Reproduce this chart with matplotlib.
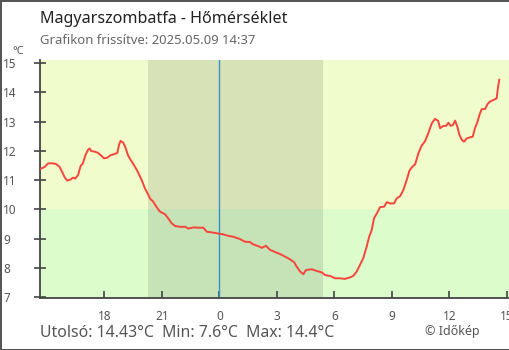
import numpy as np
import matplotlib
matplotlib.use("Agg")
import matplotlib.pyplot as plt

plt.rcParams['font.family'] = ['Noto Sans', 'DejaVu Sans']

# readings, clock time (starts 14:37 the day before)
times = ["14:38", "14:54", "15:04", "15:20", "15:30", "15:40", "15:48", "15:56",
         "16:04", "16:15", "16:22", "16:29", "16:38", "16:46", "16:53", "17:01",
         "17:09", "17:14", "17:19", "17:30", "17:40", "17:49", "17:59", "18:09",
         "18:20", "18:33", "18:41", "18:46", "18:51", "18:59", "19:06", "19:14",
         "19:23", "19:33", "19:43", "19:57", "20:07", "20:18", "20:23", "20:33",
         "20:44", "20:54", "21:10", "21:20", "21:31", "21:41", "21:57", "22:13",
         "22:23", "22:39", "22:54", "23:10", "23:21", "23:36", "23:52", "00:13",
         "00:28", "00:44", "00:49", "01:05", "01:20", "01:36", "01:46", "02:02",
         "02:13", "02:26", "02:39", "02:54", "03:10", "03:26", "03:41", "03:54",
         "04:02", "04:13", "04:23", "04:31", "04:49", "05:05", "05:21", "05:31",
         "05:47", "06:02", "06:18", "06:33", "06:49", "06:59", "07:10", "07:20",
         "07:31", "07:41", "07:49", "07:57", "08:04", "08:13", "08:23", "08:36",
         "08:44", "08:54", "09:07", "09:15", "09:26", "09:36", "09:47", "09:55",
         "10:03", "10:13", "10:23", "10:33", "10:44", "10:54", "11:05", "11:15",
         "11:25", "11:31", "11:41", "11:50", "11:57", "12:04", "12:11", "12:18",
         "12:25", "12:31", "12:39", "12:46", "12:54", "13:05", "13:13", "13:20",
         "13:28", "13:34", "13:41", "13:52", "13:59", "14:07", "14:20", "14:28",
         "14:31", "14:36"]
temps = [11.37, 11.45, 11.57, 11.57, 11.54, 11.45, 11.28, 11.09,
         10.98, 11.02, 11.08, 11.05, 11.17, 11.48, 11.57, 11.85,
         12.03, 12.08, 11.99, 11.97, 11.93, 11.85, 11.74, 11.76,
         11.85, 11.89, 11.93, 12.20, 12.34, 12.28, 12.12, 11.85,
         11.68, 11.51, 11.32, 11.00, 10.72, 10.49, 10.37, 10.26,
         10.07, 9.92, 9.83, 9.69, 9.52, 9.43, 9.40, 9.40,
         9.34, 9.38, 9.37, 9.37, 9.23, 9.21, 9.18, 9.14,
         9.09, 9.06, 9.04, 8.98, 8.89, 8.88, 8.80, 8.74,
         8.68, 8.75, 8.61, 8.54, 8.47, 8.38, 8.29, 8.19,
         8.04, 7.87, 7.78, 7.92, 7.95, 7.89, 7.84, 7.75,
         7.72, 7.64, 7.64, 7.62, 7.67, 7.72, 7.87, 8.09,
         8.34, 8.72, 9.06, 9.29, 9.69, 9.86, 10.07, 10.09,
         10.24, 10.20, 10.20, 10.37, 10.45, 10.66, 11.02, 11.32,
         11.44, 11.54, 11.91, 12.17, 12.33, 12.60, 12.94, 13.09,
         13.02, 12.77, 12.85, 12.85, 12.96, 12.85, 12.88, 13.03,
         12.82, 12.56, 12.37, 12.31, 12.42, 12.46, 12.48, 12.77,
         12.99, 13.22, 13.42, 13.43, 13.59, 13.68, 13.75, 13.79,
         14.08, 14.43]

start = "14:37"
sunset, sunrise = "20:17", "05:25"
tick_hours = [18, 21, 0, 3, 6, 9, 12, 15]
y_ticks = [7, 8, 9, 10, 11, 12, 13, 14, 15]


def to_hours(t):
    # hours relative to midnight, previous day negative
    h0 = int(start[:2]) * 60 + int(start[3:])
    m = int(t[:2]) * 60 + int(t[3:])
    return -24 + h0 / 60 + ((m - h0) % 1440) / 60


x = np.array([to_hours(t) for t in times])
y = np.array(temps)
x_lo = to_hours(start)
x_hi = 15.11

fig = plt.figure(figsize=(5.1, 3.5), dpi=100)
fig.patch.set_edgecolor('#555555')
fig.patch.set_linewidth(2)
ax = fig.add_axes([40 / 510, 52 / 350, 469 / 510, 238 / 350])
ax.set_xlim(x_lo + 0.03, x_hi)
ax.set_ylim(6.966, 15.103)

ax.axhspan(10, 20, color='#f0fccc', lw=0, zorder=0)
ax.axhspan(0, 10, color='#ddfccc', lw=0, zorder=0)
ax.axvspan(to_hours(sunset), to_hours(sunrise), color='black', alpha=0.1, lw=0, zorder=1)
ax.axvline(0, color='#3a8fd0', lw=1, zorder=2)

ax.plot(x, y, color='#f5453c', lw=1.4, zorder=3)

for s in ['top', 'right']:
    ax.spines[s].set_visible(False)
for s in ['left', 'bottom']:
    ax.spines[s].set_color('#444444')
    ax.spines[s].set_linewidth(1.3)

ax.set_xticks([h - 24 if h >= 16 else h for h in tick_hours])
ax.set_xticklabels([str(h) for h in tick_hours])
ax.set_yticks(y_ticks)
ax.set_yticklabels([str(v) for v in y_ticks])
ax.tick_params(axis='x', direction='in', length=5, width=1.2, color='#444444',
               labelsize=8.5, labelcolor='#555555', pad=9)
ax.tick_params(axis='y', direction='inout', length=9, width=1.2, color='#444444',
               labelsize=8.5, labelcolor='#555555', pad=22)
for lab in ax.get_yticklabels():
    lab.set_horizontalalignment('left')

fig.text(40 / 510, 1 - 19 / 350, 'Magyarszombatfa - Hőmérséklet', fontsize=11.6,
         color='#222222', va='center')
fig.text(40 / 510, 1 - 41 / 350, 'Grafikon frissítve: 2025.05.09 14:37', fontsize=9.4,
         color='#666666', va='center')
fig.text(12 / 510, 1 - 51 / 350, '°C', fontsize=8, color='#555555', va='center')
fig.text(40 / 510, 1 - 333 / 350,
         'Utolsó: 14.43°C  Min: 7.6°C  Max: 14.4°C', fontsize=11.4,
         color='#555555', va='center')
fig.text(425 / 510, 1 - 331 / 350, '© Időkép', fontsize=9, color='#555555', va='center')

fig.savefig('out.png', dpi=100, edgecolor=fig.get_edgecolor())
